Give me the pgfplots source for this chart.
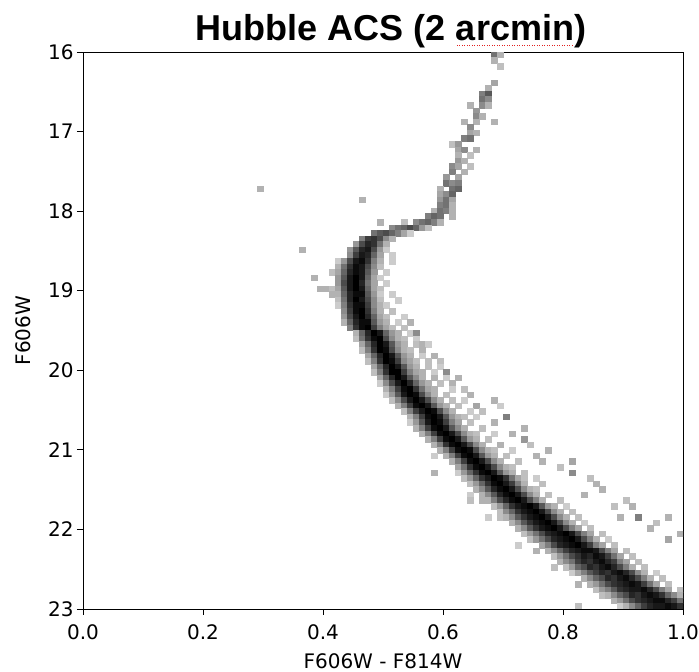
\documentclass[border=0pt]{standalone}
\usepackage{fontspec}
\setmainfont{DejaVu Sans}
\newfontfamily\titlefont{Liberation Sans}
\usepackage{pgfplots}
\pgfplotsset{compat=1.18}
\definecolor{spell}{RGB}{225,30,30}
\newsavebox\arcbox
\newcommand\spellerr[1]{\sbox\arcbox{#1}\rlap{\raisebox{-5bp}{\textcolor{spell}{\hbox to \wd\arcbox{\leaders\hbox to 2.5bp{\hss\rule{1.3bp}{1.3bp}\hss}\hfill}}}}\usebox\arcbox}
\begin{document}
\begin{tikzpicture}
\begin{axis}[
 name=ax, anchor=south west, at={(0,0)},
 scale only axis, width=600bp, height=557bp,
 xmin=0, xmax=1, ymin=16, ymax=23, y dir=reverse,
 xtick={0,0.2,0.4,0.6,0.8,1}, ytick={16,17,18,19,20,21,22,23},
 tick align=outside, xtick pos=bottom, ytick pos=left,
 major tick length=6bp,
 tick style={black, line width=0.8bp},
 axis line style={line width=0.9bp},
 /pgf/number format/assume math mode=true,
 ticklabel style={font=\fontsize{20bp}{22bp}\selectfont},
 xticklabel style={yshift=-6bp, /pgf/number format/.cd, fixed, fixed zerofill, precision=1},
 xlabel={F606W - F814W}, ylabel={F606W},
 label style={font=\fontsize{20bp}{22bp}\selectfont},
 xlabel style={at={(axis description cs:0.5,0)}, anchor=center, yshift=-52bp},
 ylabel style={at={(axis description cs:0,0.5)}, anchor=center, yshift=60bp},
 colormap={greys}{rgb255=(255,255,255) rgb255=(0,0,0)},
 point meta min=0, point meta max=1,
 clip marker paths=true,
]
\addplot[scatter, only marks, mark=square*, mark size=3bp, point meta=explicit,
  scatter/use mapped color={draw=mapped color, fill=mapped color},
  mark options={line width=0.3bp, yscale=0.93}]
coordinates {
(0.685,16.035)[0.55] (0.695,16.035)[0.3]
(0.685,16.105)[0.3]
(0.695,16.175)[0.25]
(0.685,16.385)[0.35]
(0.675,16.455)[0.3]
(0.665,16.525)[0.5] (0.675,16.525)[0.65]
(0.665,16.595)[0.55] (0.675,16.595)[0.45]
(0.645,16.665)[0.3] (0.665,16.665)[0.45] (0.675,16.665)[0.3]
(0.655,16.735)[0.4]
(0.655,16.805)[0.45] (0.665,16.805)[0.3]
(0.635,16.875)[0.3] (0.655,16.875)[0.3] (0.685,16.875)[0.3]
(0.645,16.945)[0.45]
(0.645,17.015)[0.35] (0.655,17.015)[0.3]
(0.635,17.085)[0.5] (0.645,17.085)[0.55]
(0.615,17.155)[0.25] (0.625,17.155)[0.4]
(0.625,17.225)[0.35] (0.635,17.225)[0.45] (0.655,17.225)[0.3]
(0.625,17.295)[0.3] (0.645,17.295)[0.25]
(0.625,17.365)[0.4] (0.635,17.365)[0.3]
(0.615,17.435)[0.45] (0.625,17.435)[0.35] (0.645,17.435)[0.25]
(0.615,17.505)[0.5] (0.635,17.505)[0.3]
(0.605,17.575)[0.4] (0.625,17.575)[0.35]
(0.605,17.645)[0.55] (0.615,17.645)[0.45] (0.625,17.645)[0.5]
(0.295,17.715)[0.3] (0.595,17.715)[0.3] (0.615,17.715)[0.55] (0.625,17.715)[0.6]
(0.595,17.785)[0.35] (0.605,17.785)[0.45] (0.615,17.785)[0.6]
(0.465,17.855)[0.3] (0.595,17.855)[0.4] (0.605,17.855)[0.55] (0.615,17.855)[0.35]
(0.595,17.925)[0.5] (0.605,17.925)[0.55] (0.615,17.925)[0.3]
(0.585,17.995)[0.3] (0.595,17.995)[0.55] (0.605,17.995)[0.5] (0.615,17.995)[0.3]
(0.575,18.065)[0.5] (0.585,18.065)[0.6] (0.595,18.065)[0.55] (0.615,18.065)[0.3]
(0.495,18.135)[0.3] (0.535,18.135)[0.25] (0.555,18.135)[0.45] (0.565,18.135)[0.55] (0.575,18.135)[0.6] (0.585,18.135)[0.5] (0.595,18.135)[0.3]
(0.515,18.205)[0.45] (0.525,18.205)[0.55] (0.535,18.205)[0.6] (0.545,18.205)[0.7] (0.555,18.205)[0.6] (0.565,18.205)[0.4] (0.575,18.205)[0.25]
(0.485,18.275)[0.55] (0.495,18.275)[0.65] (0.505,18.275)[0.7] (0.515,18.275)[0.6] (0.525,18.275)[0.5] (0.535,18.275)[0.35] (0.545,18.275)[0.2]
(0.465,18.345)[0.5] (0.475,18.345)[0.75] (0.485,18.345)[0.8] (0.495,18.345)[0.7] (0.505,18.345)[0.45] (0.515,18.345)[0.3]
(0.455,18.415)[0.4] (0.465,18.415)[0.7] (0.475,18.415)[0.85] (0.485,18.415)[0.8] (0.495,18.415)[0.55] (0.505,18.415)[0.3]
(0.365,18.485)[0.3] (0.445,18.485)[0.4] (0.455,18.485)[0.65] (0.465,18.485)[0.85] (0.475,18.485)[0.9] (0.485,18.485)[0.7] (0.495,18.485)[0.4] (0.505,18.485)[0.2]
(0.445,18.555)[0.45] (0.455,18.555)[0.75] (0.465,18.555)[0.9] (0.475,18.555)[0.85] (0.485,18.555)[0.6] (0.495,18.555)[0.35] (0.515,18.555)[0.2]
(0.425,18.625)[0.2] (0.435,18.625)[0.4] (0.445,18.625)[0.7] (0.455,18.625)[0.9] (0.465,18.625)[0.95] (0.475,18.625)[0.8] (0.485,18.625)[0.5] (0.495,18.625)[0.3] (0.515,18.625)[0.2]
(0.425,18.695)[0.3] (0.435,18.695)[0.55] (0.445,18.695)[0.8] (0.455,18.695)[0.95] (0.465,18.695)[0.9] (0.475,18.695)[0.7] (0.485,18.695)[0.45] (0.495,18.695)[0.25]
(0.415,18.765)[0.25] (0.425,18.765)[0.35] (0.435,18.765)[0.6] (0.445,18.765)[0.85] (0.455,18.765)[0.95] (0.465,18.765)[0.9] (0.475,18.765)[0.65] (0.485,18.765)[0.4] (0.505,18.765)[0.2]
(0.385,18.835)[0.3] (0.425,18.835)[0.4] (0.435,18.835)[0.65] (0.445,18.835)[0.9] (0.455,18.835)[1] (0.465,18.835)[0.9] (0.475,18.835)[0.6] (0.485,18.835)[0.35] (0.495,18.835)[0.2]
(0.425,18.905)[0.4] (0.435,18.905)[0.7] (0.445,18.905)[0.9] (0.455,18.905)[1] (0.465,18.905)[0.85] (0.475,18.905)[0.55] (0.485,18.905)[0.35] (0.505,18.905)[0.2]
(0.395,18.975)[0.3] (0.405,18.975)[0.3] (0.415,18.975)[0.25] (0.425,18.975)[0.35] (0.435,18.975)[0.65] (0.445,18.975)[0.9] (0.455,18.975)[1] (0.465,18.975)[0.9] (0.475,18.975)[0.6] (0.485,18.975)[0.35] (0.495,18.975)[0.25]
(0.415,19.045)[0.3] (0.425,19.045)[0.3] (0.435,19.045)[0.6] (0.445,19.045)[0.85] (0.455,19.045)[0.95] (0.465,19.045)[0.95] (0.475,19.045)[0.65] (0.485,19.045)[0.4] (0.495,19.045)[0.2] (0.515,19.045)[0.2]
(0.425,19.115)[0.25] (0.435,19.115)[0.55] (0.445,19.115)[0.85] (0.455,19.115)[1] (0.465,19.115)[0.9] (0.475,19.115)[0.7] (0.485,19.115)[0.45] (0.495,19.115)[0.25] (0.525,19.115)[0.2]
(0.425,19.185)[0.2] (0.435,19.185)[0.5] (0.445,19.185)[0.8] (0.455,19.185)[0.95] (0.465,19.185)[0.95] (0.475,19.185)[0.75] (0.485,19.185)[0.45] (0.495,19.185)[0.3] (0.505,19.185)[0.2]
(0.435,19.255)[0.45] (0.445,19.255)[0.75] (0.455,19.255)[0.95] (0.465,19.255)[1] (0.475,19.255)[0.8] (0.485,19.255)[0.5] (0.495,19.255)[0.3] (0.515,19.255)[0.25]
(0.435,19.325)[0.4] (0.445,19.325)[0.7] (0.455,19.325)[0.9] (0.465,19.325)[1] (0.475,19.325)[0.85] (0.485,19.325)[0.6] (0.495,19.325)[0.35] (0.505,19.325)[0.25] (0.535,19.325)[0.2]
(0.435,19.395)[0.3] (0.445,19.395)[0.6] (0.455,19.395)[0.85] (0.465,19.395)[0.95] (0.475,19.395)[0.95] (0.485,19.395)[0.65] (0.495,19.395)[0.4] (0.505,19.395)[0.3] (0.525,19.395)[0.2] (0.545,19.395)[0.3]
(0.445,19.465)[0.5] (0.455,19.465)[0.8] (0.465,19.465)[0.95] (0.475,19.465)[1] (0.485,19.465)[0.75] (0.495,19.465)[0.5] (0.505,19.465)[0.35] (0.515,19.465)[0.25] (0.535,19.465)[0.25]
(0.455,19.535)[0.3] (0.465,19.535)[0.6] (0.475,19.535)[0.85] (0.485,19.535)[1] (0.495,19.535)[0.9] (0.505,19.535)[0.6] (0.515,19.535)[0.4] (0.525,19.535)[0.3] (0.545,19.535)[0.2] (0.555,19.535)[0.45]
(0.455,19.605)[0.25] (0.465,19.605)[0.55] (0.475,19.605)[0.8] (0.485,19.605)[0.95] (0.495,19.605)[1] (0.505,19.605)[0.7] (0.515,19.605)[0.45] (0.525,19.605)[0.3] (0.535,19.605)[0.25] (0.555,19.605)[0.2]
(0.465,19.675)[0.35] (0.475,19.675)[0.6] (0.485,19.675)[0.85] (0.495,19.675)[1] (0.505,19.675)[0.9] (0.515,19.675)[0.65] (0.525,19.675)[0.4] (0.535,19.675)[0.3] (0.555,19.675)[0.25] (0.565,19.675)[0.3] (0.575,19.675)[0.2]
(0.465,19.745)[0.25] (0.475,19.745)[0.5] (0.485,19.745)[0.8] (0.495,19.745)[1] (0.505,19.745)[0.95] (0.515,19.745)[0.7] (0.525,19.745)[0.45] (0.535,19.745)[0.3] (0.545,19.745)[0.25] (0.565,19.745)[0.3]
(0.475,19.815)[0.35] (0.485,19.815)[0.6] (0.495,19.815)[0.85] (0.505,19.815)[1] (0.515,19.815)[0.9] (0.525,19.815)[0.65] (0.535,19.815)[0.4] (0.545,19.815)[0.3] (0.565,19.815)[0.2] (0.585,19.815)[0.3]
(0.475,19.885)[0.25] (0.485,19.885)[0.5] (0.495,19.885)[0.8] (0.505,19.885)[1] (0.515,19.885)[0.95] (0.525,19.885)[0.75] (0.535,19.885)[0.45] (0.545,19.885)[0.35] (0.555,19.885)[0.25] (0.575,19.885)[0.25] (0.595,19.885)[0.25]
(0.485,19.955)[0.35] (0.495,19.955)[0.6] (0.505,19.955)[0.85] (0.515,19.955)[1] (0.525,19.955)[0.9] (0.535,19.955)[0.65] (0.545,19.955)[0.4] (0.555,19.955)[0.3] (0.575,19.955)[0.25] (0.595,19.955)[0.2]
(0.485,20.025)[0.25] (0.495,20.025)[0.5] (0.505,20.025)[0.8] (0.515,20.025)[1] (0.525,20.025)[1] (0.535,20.025)[0.75] (0.545,20.025)[0.5] (0.555,20.025)[0.35] (0.565,20.025)[0.3] (0.585,20.025)[0.2] (0.605,20.025)[0.45]
(0.495,20.095)[0.35] (0.505,20.095)[0.6] (0.515,20.095)[0.85] (0.525,20.095)[1] (0.535,20.095)[0.9] (0.545,20.095)[0.65] (0.555,20.095)[0.45] (0.565,20.095)[0.3] (0.585,20.095)[0.3] (0.605,20.095)[0.2] (0.625,20.095)[0.3]
(0.495,20.165)[0.2] (0.505,20.165)[0.45] (0.515,20.165)[0.7] (0.525,20.165)[0.9] (0.535,20.165)[1] (0.545,20.165)[0.85] (0.555,20.165)[0.6] (0.565,20.165)[0.4] (0.575,20.165)[0.3] (0.595,20.165)[0.25] (0.615,20.165)[0.3]
(0.505,20.235)[0.3] (0.515,20.235)[0.5] (0.525,20.235)[0.75] (0.535,20.235)[0.95] (0.545,20.235)[1] (0.555,20.235)[0.8] (0.565,20.235)[0.55] (0.575,20.235)[0.35] (0.585,20.235)[0.3] (0.615,20.235)[0.2] (0.635,20.235)[0.25]
(0.505,20.305)[0.2] (0.515,20.305)[0.4] (0.525,20.305)[0.65] (0.535,20.305)[0.9] (0.545,20.305)[1] (0.555,20.305)[0.95] (0.565,20.305)[0.7] (0.575,20.305)[0.45] (0.585,20.305)[0.3] (0.605,20.305)[0.25] (0.645,20.305)[0.3]
(0.515,20.375)[0.25] (0.525,20.375)[0.45] (0.535,20.375)[0.7] (0.545,20.375)[0.9] (0.555,20.375)[1] (0.565,20.375)[0.9] (0.575,20.375)[0.7] (0.585,20.375)[0.45] (0.595,20.375)[0.3] (0.615,20.375)[0.25] (0.635,20.375)[0.2] (0.685,20.375)[0.3]
(0.525,20.445)[0.3] (0.535,20.445)[0.5] (0.545,20.445)[0.75] (0.555,20.445)[0.95] (0.565,20.445)[1] (0.575,20.445)[0.9] (0.585,20.445)[0.65] (0.595,20.445)[0.4] (0.605,20.445)[0.3] (0.625,20.445)[0.25] (0.655,20.445)[0.35] (0.695,20.445)[0.2]
(0.535,20.515)[0.25] (0.545,20.515)[0.5] (0.555,20.515)[0.75] (0.565,20.515)[0.9] (0.575,20.515)[1] (0.585,20.515)[0.95] (0.595,20.515)[0.7] (0.605,20.515)[0.45] (0.615,20.515)[0.3] (0.645,20.515)[0.2] (0.665,20.515)[0.25]
(0.545,20.585)[0.3] (0.555,20.585)[0.5] (0.565,20.585)[0.75] (0.575,20.585)[0.95] (0.585,20.585)[1] (0.595,20.585)[0.9] (0.605,20.585)[0.65] (0.615,20.585)[0.4] (0.625,20.585)[0.3] (0.635,20.585)[0.25] (0.655,20.585)[0.2] (0.705,20.585)[0.5]
(0.545,20.655)[0.2] (0.555,20.655)[0.4] (0.565,20.655)[0.65] (0.575,20.655)[0.9] (0.585,20.655)[1] (0.595,20.655)[0.95] (0.605,20.655)[0.75] (0.615,20.655)[0.5] (0.625,20.655)[0.35] (0.645,20.655)[0.25] (0.685,20.655)[0.3]
(0.555,20.725)[0.3] (0.565,20.725)[0.5] (0.575,20.725)[0.75] (0.585,20.725)[0.95] (0.595,20.725)[1] (0.605,20.725)[0.9] (0.615,20.725)[0.65] (0.625,20.725)[0.45] (0.635,20.725)[0.3] (0.665,20.725)[0.25] (0.735,20.725)[0.3]
(0.565,20.795)[0.3] (0.575,20.795)[0.5] (0.585,20.795)[0.75] (0.595,20.795)[0.95] (0.605,20.795)[1] (0.615,20.795)[0.9] (0.625,20.795)[0.7] (0.635,20.795)[0.45] (0.645,20.795)[0.3] (0.655,20.795)[0.25] (0.685,20.795)[0.2] (0.715,20.795)[0.3]
(0.575,20.865)[0.3] (0.585,20.865)[0.5] (0.595,20.865)[0.75] (0.605,20.865)[0.95] (0.615,20.865)[1] (0.625,20.865)[0.9] (0.635,20.865)[0.65] (0.645,20.865)[0.4] (0.655,20.865)[0.3] (0.675,20.865)[0.25] (0.735,20.865)[0.4]
(0.585,20.935)[0.3] (0.595,20.935)[0.5] (0.605,20.935)[0.8] (0.615,20.935)[0.95] (0.625,20.935)[1] (0.635,20.935)[0.9] (0.645,20.935)[0.7] (0.655,20.935)[0.45] (0.665,20.935)[0.3] (0.695,20.935)[0.3] (0.745,20.935)[0.25]
(0.595,21.005)[0.3] (0.605,21.005)[0.5] (0.615,21.005)[0.75] (0.625,21.005)[0.95] (0.635,21.005)[1] (0.645,21.005)[0.95] (0.655,21.005)[0.7] (0.665,21.005)[0.45] (0.675,21.005)[0.3] (0.685,21.005)[0.25] (0.715,21.005)[0.2] (0.775,21.005)[0.3]
(0.585,21.075)[0.2] (0.605,21.075)[0.3] (0.615,21.075)[0.5] (0.625,21.075)[0.75] (0.635,21.075)[0.95] (0.645,21.075)[1] (0.655,21.075)[0.9] (0.665,21.075)[0.65] (0.675,21.075)[0.4] (0.685,21.075)[0.3] (0.705,21.075)[0.25] (0.755,21.075)[0.3]
(0.615,21.145)[0.3] (0.625,21.145)[0.5] (0.635,21.145)[0.75] (0.645,21.145)[0.95] (0.655,21.145)[1] (0.665,21.145)[0.9] (0.675,21.145)[0.7] (0.685,21.145)[0.45] (0.695,21.145)[0.3] (0.725,21.145)[0.25] (0.765,21.145)[0.3] (0.815,21.145)[0.35]
(0.625,21.215)[0.35] (0.635,21.215)[0.55] (0.645,21.215)[0.8] (0.655,21.215)[0.95] (0.665,21.215)[1] (0.675,21.215)[0.9] (0.685,21.215)[0.7] (0.695,21.215)[0.45] (0.705,21.215)[0.3] (0.715,21.215)[0.25] (0.795,21.215)[0.25]
(0.585,21.285)[0.3] (0.625,21.285)[0.2] (0.635,21.285)[0.4] (0.645,21.285)[0.6] (0.655,21.285)[0.8] (0.665,21.285)[0.95] (0.675,21.285)[1] (0.685,21.285)[0.9] (0.695,21.285)[0.65] (0.705,21.285)[0.4] (0.715,21.285)[0.3] (0.735,21.285)[0.25] (0.815,21.285)[0.45]
(0.635,21.355)[0.25] (0.645,21.355)[0.4] (0.655,21.355)[0.6] (0.665,21.355)[0.8] (0.675,21.355)[0.9] (0.685,21.355)[1] (0.695,21.355)[0.95] (0.705,21.355)[0.8] (0.715,21.355)[0.55] (0.725,21.355)[0.35] (0.735,21.355)[0.25] (0.755,21.355)[0.2] (0.845,21.355)[0.25]
(0.645,21.425)[0.25] (0.655,21.425)[0.4] (0.665,21.425)[0.6] (0.675,21.425)[0.8] (0.685,21.425)[0.95] (0.695,21.425)[1] (0.705,21.425)[0.9] (0.715,21.425)[0.75] (0.725,21.425)[0.5] (0.735,21.425)[0.3] (0.765,21.425)[0.25] (0.855,21.425)[0.3]
(0.655,21.495)[0.3] (0.665,21.495)[0.45] (0.675,21.495)[0.65] (0.685,21.495)[0.85] (0.695,21.495)[0.95] (0.705,21.495)[1] (0.715,21.495)[0.9] (0.725,21.495)[0.7] (0.735,21.495)[0.45] (0.745,21.495)[0.3] (0.755,21.495)[0.25] (0.865,21.495)[0.3]
(0.645,21.565)[0.2] (0.665,21.565)[0.3] (0.675,21.565)[0.45] (0.685,21.565)[0.65] (0.695,21.565)[0.85] (0.705,21.565)[0.95] (0.715,21.565)[1] (0.725,21.565)[0.9] (0.735,21.565)[0.7] (0.745,21.565)[0.45] (0.755,21.565)[0.3] (0.775,21.565)[0.25] (0.835,21.565)[0.3]
(0.645,21.635)[0.25] (0.665,21.635)[0.3] (0.675,21.635)[0.3] (0.685,21.635)[0.5] (0.695,21.635)[0.7] (0.705,21.635)[0.85] (0.715,21.635)[0.95] (0.725,21.635)[1] (0.735,21.635)[0.9] (0.745,21.635)[0.7] (0.755,21.635)[0.5] (0.765,21.635)[0.3] (0.795,21.635)[0.25] (0.905,21.635)[0.25]
(0.685,21.705)[0.25] (0.695,21.705)[0.4] (0.705,21.705)[0.6] (0.715,21.705)[0.8] (0.725,21.705)[0.9] (0.735,21.705)[0.95] (0.745,21.705)[1] (0.755,21.705)[0.9] (0.765,21.705)[0.65] (0.775,21.705)[0.4] (0.785,21.705)[0.3] (0.805,21.705)[0.2] (0.885,21.705)[0.25] (0.915,21.705)[0.3]
(0.695,21.775)[0.25] (0.705,21.775)[0.45] (0.715,21.775)[0.6] (0.725,21.775)[0.8] (0.735,21.775)[0.9] (0.745,21.775)[0.95] (0.755,21.775)[1] (0.765,21.775)[0.9] (0.775,21.775)[0.7] (0.785,21.775)[0.45] (0.795,21.775)[0.3] (0.815,21.775)[0.25]
(0.675,21.845)[0.2] (0.695,21.845)[0.25] (0.705,21.845)[0.3] (0.715,21.845)[0.45] (0.725,21.845)[0.65] (0.735,21.845)[0.8] (0.745,21.845)[0.9] (0.755,21.845)[0.95] (0.765,21.845)[1] (0.775,21.845)[0.9] (0.785,21.845)[0.7] (0.795,21.845)[0.45] (0.805,21.845)[0.3] (0.825,21.845)[0.25] (0.895,21.845)[0.3] (0.925,21.845)[0.5] (0.975,21.845)[0.3]
(0.715,21.915)[0.3] (0.725,21.915)[0.45] (0.735,21.915)[0.65] (0.745,21.915)[0.8] (0.755,21.915)[0.9] (0.765,21.915)[0.95] (0.775,21.915)[1] (0.785,21.915)[0.9] (0.795,21.915)[0.7] (0.805,21.915)[0.45] (0.815,21.915)[0.3] (0.835,21.915)[0.2] (0.955,21.915)[0.25]
(0.725,21.985)[0.3] (0.735,21.985)[0.45] (0.745,21.985)[0.65] (0.755,21.985)[0.8] (0.765,21.985)[0.9] (0.775,21.985)[0.95] (0.785,21.985)[1] (0.795,21.985)[0.9] (0.805,21.985)[0.7] (0.815,21.985)[0.5] (0.825,21.985)[0.35] (0.845,21.985)[0.25] (0.945,21.985)[0.3]
(0.735,22.055)[0.25] (0.745,22.055)[0.4] (0.755,22.055)[0.55] (0.765,22.055)[0.7] (0.775,22.055)[0.85] (0.785,22.055)[0.9] (0.795,22.055)[0.95] (0.805,22.055)[1] (0.815,22.055)[0.9] (0.825,22.055)[0.7] (0.835,22.055)[0.5] (0.845,22.055)[0.35] (0.865,22.055)[0.25] (0.995,22.055)[0.3]
(0.745,22.125)[0.25] (0.755,22.125)[0.4] (0.765,22.125)[0.55] (0.775,22.125)[0.7] (0.785,22.125)[0.85] (0.795,22.125)[0.9] (0.805,22.125)[0.95] (0.815,22.125)[1] (0.825,22.125)[0.9] (0.835,22.125)[0.7] (0.845,22.125)[0.5] (0.855,22.125)[0.3] (0.875,22.125)[0.2] (0.975,22.125)[0.35]
(0.725,22.195)[0.2] (0.765,22.195)[0.35] (0.775,22.195)[0.5] (0.785,22.195)[0.7] (0.795,22.195)[0.85] (0.805,22.195)[0.9] (0.815,22.195)[0.95] (0.825,22.195)[1] (0.835,22.195)[0.9] (0.845,22.195)[0.75] (0.855,22.195)[0.5] (0.865,22.195)[0.35] (0.885,22.195)[0.25]
(0.755,22.265)[0.3] (0.775,22.265)[0.3] (0.785,22.265)[0.45] (0.795,22.265)[0.6] (0.805,22.265)[0.75] (0.815,22.265)[0.85] (0.825,22.265)[0.9] (0.835,22.265)[0.95] (0.845,22.265)[0.95] (0.855,22.265)[0.9] (0.865,22.265)[0.7] (0.875,22.265)[0.5] (0.885,22.265)[0.35] (0.905,22.265)[0.25]
(0.785,22.335)[0.25] (0.795,22.335)[0.4] (0.805,22.335)[0.55] (0.815,22.335)[0.7] (0.825,22.335)[0.8] (0.835,22.335)[0.9] (0.845,22.335)[0.85] (0.855,22.335)[0.95] (0.865,22.335)[0.9] (0.875,22.335)[0.75] (0.885,22.335)[0.55] (0.895,22.335)[0.35] (0.915,22.335)[0.25]
(0.795,22.405)[0.3] (0.805,22.405)[0.45] (0.815,22.405)[0.55] (0.825,22.405)[0.75] (0.835,22.405)[0.85] (0.845,22.405)[0.8] (0.855,22.405)[0.9] (0.865,22.405)[0.95] (0.875,22.405)[0.85] (0.885,22.405)[0.75] (0.895,22.405)[0.5] (0.905,22.405)[0.35] (0.925,22.405)[0.25]
(0.785,22.475)[0.25] (0.805,22.475)[0.25] (0.815,22.475)[0.4] (0.825,22.475)[0.6] (0.835,22.475)[0.7] (0.845,22.475)[0.85] (0.855,22.475)[0.8] (0.865,22.475)[0.9] (0.875,22.475)[0.95] (0.885,22.475)[0.85] (0.895,22.475)[0.7] (0.905,22.475)[0.5] (0.915,22.475)[0.3] (0.935,22.475)[0.25]
(0.815,22.545)[0.2] (0.825,22.545)[0.35] (0.835,22.545)[0.5] (0.845,22.545)[0.65] (0.855,22.545)[0.75] (0.865,22.545)[0.85] (0.875,22.545)[0.8] (0.885,22.545)[0.9] (0.895,22.545)[0.95] (0.905,22.545)[0.85] (0.915,22.545)[0.7] (0.925,22.545)[0.45] (0.935,22.545)[0.3] (0.955,22.545)[0.2]
(0.835,22.615)[0.3] (0.845,22.615)[0.45] (0.855,22.615)[0.6] (0.865,22.615)[0.7] (0.875,22.615)[0.85] (0.885,22.615)[0.8] (0.895,22.615)[0.9] (0.905,22.615)[0.95] (0.915,22.615)[0.85] (0.925,22.615)[0.7] (0.935,22.615)[0.5] (0.945,22.615)[0.3] (0.965,22.615)[0.25]
(0.825,22.685)[0.3] (0.845,22.685)[0.3] (0.855,22.685)[0.4] (0.865,22.685)[0.55] (0.875,22.685)[0.7] (0.885,22.685)[0.8] (0.895,22.685)[0.85] (0.905,22.685)[0.9] (0.915,22.685)[0.95] (0.925,22.685)[0.9] (0.935,22.685)[0.75] (0.945,22.685)[0.55] (0.955,22.685)[0.35] (0.975,22.685)[0.25]
(0.855,22.755)[0.25] (0.865,22.755)[0.4] (0.875,22.755)[0.5] (0.885,22.755)[0.65] (0.895,22.755)[0.8] (0.905,22.755)[0.85] (0.915,22.755)[0.9] (0.925,22.755)[0.9] (0.935,22.755)[0.95] (0.945,22.755)[0.85] (0.955,22.755)[0.7] (0.965,22.755)[0.5] (0.975,22.755)[0.35] (0.995,22.755)[0.25]
(0.865,22.825)[0.25] (0.875,22.825)[0.3] (0.885,22.825)[0.45] (0.895,22.825)[0.6] (0.905,22.825)[0.7] (0.915,22.825)[0.85] (0.925,22.825)[0.8] (0.935,22.825)[0.9] (0.945,22.825)[0.95] (0.955,22.825)[0.9] (0.965,22.825)[0.8] (0.975,22.825)[0.6] (0.985,22.825)[0.45] (0.995,22.825)[0.3]
(0.885,22.895)[0.3] (0.895,22.895)[0.4] (0.905,22.895)[0.55] (0.915,22.895)[0.7] (0.925,22.895)[0.8] (0.935,22.895)[0.85] (0.945,22.895)[0.9] (0.955,22.895)[0.95] (0.965,22.895)[0.95] (0.975,22.895)[0.85] (0.985,22.895)[0.75] (0.995,22.895)[0.55]
(0.825,22.965)[0.25] (0.895,22.965)[0.2] (0.905,22.965)[0.3] (0.915,22.965)[0.45] (0.925,22.965)[0.6] (0.935,22.965)[0.75] (0.945,22.965)[0.85] (0.955,22.965)[0.9] (0.965,22.965)[0.9] (0.975,22.965)[0.95] (0.985,22.965)[0.9] (0.995,22.965)[0.8]
};
\end{axis}
\node[anchor=base, font=\titlefont\bfseries\fontsize{36bp}{38bp}\selectfont] at ([xshift=8bp, yshift=11bp]ax.north) {Hubble ACS (2 \spellerr{arcmin})};
\pgfresetboundingbox
\path ([xshift=-83bp,yshift=-63bp]ax.south west) rectangle ([xshift=16bp,yshift=52bp]ax.north east);
\end{tikzpicture}
\end{document}
